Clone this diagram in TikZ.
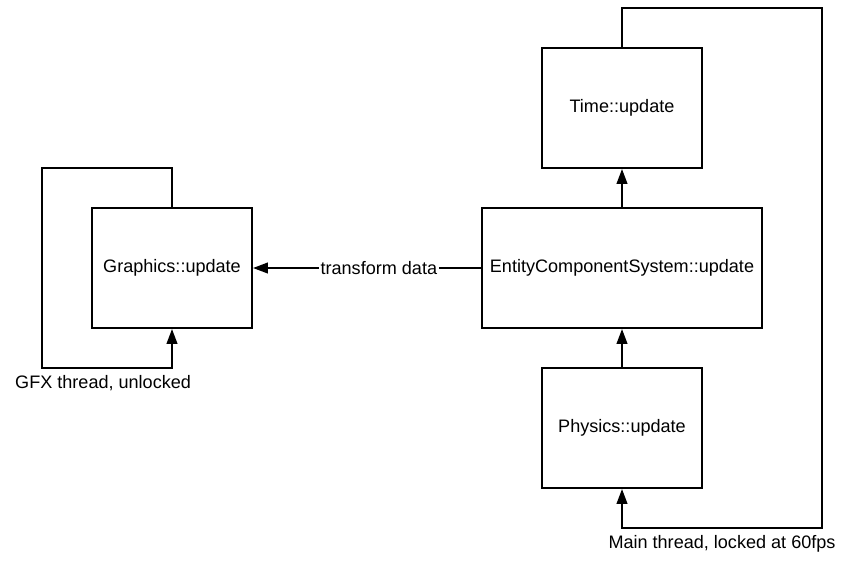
\documentclass[tikz,border=0pt]{standalone}
\usepackage{fontspec}
\setmainfont{Liberation Sans}
\usetikzlibrary{arrows.meta}

\begin{document}
\begin{tikzpicture}[x=0.025cm, y=-0.025cm, line width=1.4pt,
    every node/.style={font=\fontsize{12.85}{15}\selectfont},
    box/.style={draw, minimum width=4cm, minimum height=3cm, inner sep=2pt},
    arr/.style={-{Triangle[length=10.5pt, width=7.5pt]}}]
  \useasboundingbox (0, 0) rectangle (868, 567);

  % Update steps
  \node[box] (time) at (622, 108) {Time::update};
  \node[box, minimum width=7cm] (ecs) at (622, 268) {EntityComponentSystem::update};
  \node[box] (phys) at (622, 428) {Physics::update};
  \node[box] (gfx) at (172, 268) {Graphics::update};

  % Main thread loop
  \coordinate (mainTop) at (822, 8);
  \coordinate (mainBot) at (822, 528);
  \draw[arr] (phys.north) -- (ecs.south);
  \draw[arr] (ecs.north) -- (time.south);
  \draw[arr] (time.north) |- (mainTop) -- (mainBot)
    -| node[pos=0.25, below=1pt] {Main thread, locked at 60fps} (phys.south);

  % GFX thread loop
  \coordinate (gfxTop) at (42, 168);
  \coordinate (gfxBot) at (42, 368);
  \draw[arr] (gfx.north) |- (gfxTop) -- (gfxBot)
    -| node[pos=0.235, below=1pt] {GFX thread, unlocked} (gfx.south);

  % Data handed over
  \draw[arr] (ecs.west) -- node[pos=0.448, fill=white, inner sep=1pt] {transform data} (gfx.east);
\end{tikzpicture}
\end{document}
